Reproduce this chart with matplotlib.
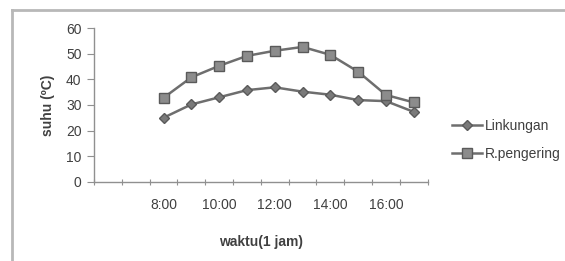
import numpy as np
import matplotlib.pyplot as plt
from matplotlib.lines import Line2D

plt.rcParams['font.family'] = ['Liberation Sans', 'DejaVu Sans']

# categories on the x axis (first two are empty in the original sheet)
waktu = ['', '', '8:00', '9:00', '10:00', '11:00', '12:00', '13:00',
         '14:00', '15:00', '16:00', '17:00']
jam = ['8:00', '9:00', '10:00', '11:00', '12:00', '13:00',
       '14:00', '15:00', '16:00', '17:00']
linkungan = [25.0, 30.2, 33.0, 35.8, 36.9, 35.2, 34.0, 31.9, 31.5, 27.3]
pengering = [32.8, 40.8, 45.3, 49.2, 51.2, 52.7, 49.6, 43.0, 33.9, 31.0]

txt = '#404040'
line_c = '#6e6e6e'

fig = plt.figure(figsize=(5.65, 2.61), dpi=100)
ax = fig.add_axes([0.1664, 0.304, 0.5906, 0.5877])

x = np.array([waktu.index(j) for j in jam])
ax.plot(x, linkungan, color=line_c, lw=1.8, marker='D', ms=5.5,
        mfc='#7a7a7a', mec='#5a5a5a', label='Linkungan')
ax.plot(x, pengering, color=line_c, lw=1.8, marker='s', ms=7.5,
        mfc='#8c8c8c', mec='#5a5a5a', label='R.pengering')

ax.set_xlim(-0.5, len(waktu) - 0.5)
ax.set_ylim(0, 60)
ax.set_yticks(np.arange(0, 61, 10))
ax.set_xticks(np.arange(-0.5, len(waktu), 1.0))
ax.set_xticklabels([])
ax.set_xticks(range(0, len(waktu), 2), minor=True)
ax.set_xticklabels(waktu[::2], minor=True)
ax.tick_params(axis='x', which='minor', length=0, pad=12, labelsize=10,
               labelcolor=txt)
ax.tick_params(axis='x', which='major', length=4, color='#909090',
               direction='inout')
ax.tick_params(axis='y', length=5, color='#909090', labelsize=10,
               labelcolor=txt, pad=4)

for s in ['top', 'right']:
    ax.spines[s].set_visible(False)
for s in ['left', 'bottom']:
    ax.spines[s].set_color('#909090')
    ax.spines[s].set_linewidth(1.0)

ax.set_ylabel('suhu (ºC)', fontsize=10, fontweight='bold', color=txt,
              labelpad=8)
ax.set_xlabel('waktu(1 jam)', fontsize=10, fontweight='bold', color=txt,
              labelpad=16)

ax.legend(loc='center left', bbox_to_anchor=(1.035, 0.27), frameon=False,
          fontsize=10, labelcolor=txt, handlelength=2.2, handletextpad=0.2,
          labelspacing=1.0)

# outer chart border (only top and left visible in the crop)
fig.add_artist(Line2D([12 / 565, 12 / 565], [0, 1 - 10 / 261],
                      transform=fig.transFigure, color='#b8b8b8', lw=2))
fig.add_artist(Line2D([12 / 565, 1], [1 - 10 / 261, 1 - 10 / 261],
                      transform=fig.transFigure, color='#b8b8b8', lw=2))

fig.savefig('out.png', dpi=100)
